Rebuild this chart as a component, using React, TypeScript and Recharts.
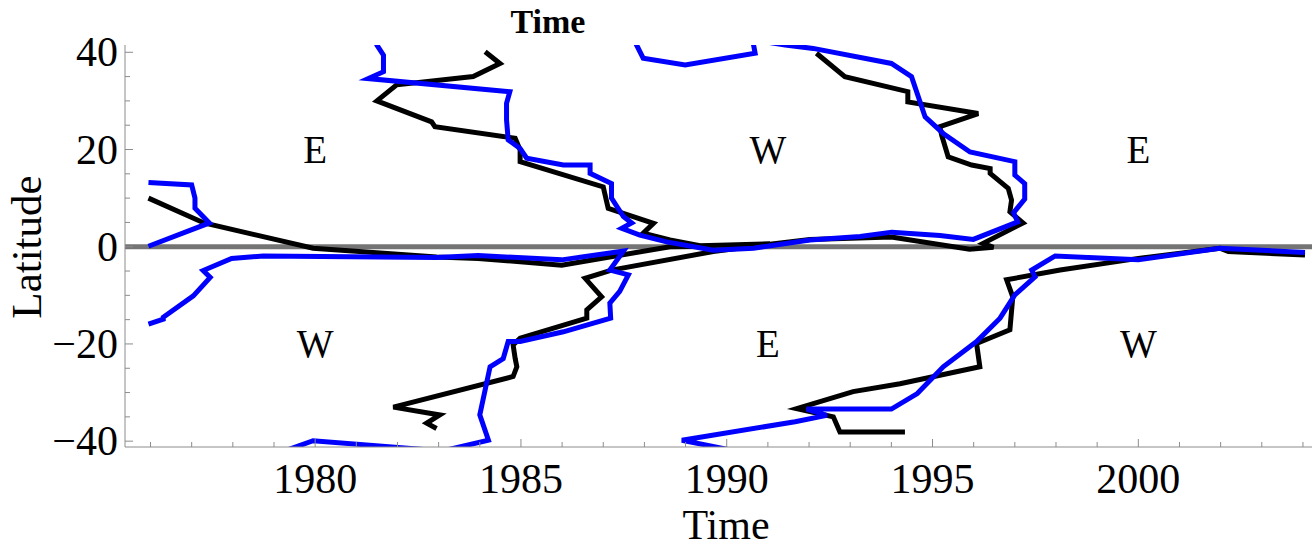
import React from 'react';
import { ComposedChart, Line, XAxis, YAxis, ReferenceLine, Scatter } from 'recharts';

// Zero-wind boundaries (time in years, latitude in degrees), one array per contour piece.
const blackNorthWest: [number, number][] = [
  [1975.95, 10.0], [1977.3, 4.9], [1979.95, -0.3], [1982.95, -2.1], [1983.96, -2.4],
  [1985.99, -3.8], [1988.62, 0.0], [1989.5, 0.1],
];
const blackSouthRise: [number, number][] = [
  [1982.95, -37.4], [1982.71, -36.3], [1983.03, -34.6], [1981.9, -33.0], [1984.81, -26.7],
  [1984.9, -24.7], [1984.86, -23.0], [1984.81, -20.2], [1984.98, -18.8], [1986.6, -14.7],
  [1986.6, -13.0], [1986.96, -10.3], [1986.56, -6.5], [1987.2, -4.8], [1989.67, -1.0],
  [1991.05, 0.5],
];
const blackNorthRidge: [number, number][] = [
  [1991.05, 0.5], [1992.02, 1.5], [1994.0, 2.0], [1995.9, -0.5], [1996.48, -0.1],
  [1996.23, 0.7], [1997.2, 4.9], [1996.88, 7.2], [1996.92, 9.6], [1996.84, 12.0],
  [1996.4, 15.1], [1996.4, 16.1], [1995.95, 16.8], [1995.38, 18.5], [1995.22, 23.0],
  [1995.18, 24.7], [1996.11, 27.4], [1994.4, 29.8], [1994.4, 31.9], [1992.87, 35.0],
  [1992.18, 39.8],
];
const blackTopLeft: [number, number][] = [
  [1984.13, 40.1], [1984.49, 37.7], [1983.84, 35.0], [1981.98, 33.3], [1981.5, 30.0],
  [1982.83, 25.7], [1982.91, 24.7], [1984.86, 22.3], [1984.98, 19.9], [1984.98, 17.5],
  [1987.0, 12.3], [1987.12, 7.9], [1988.22, 4.8], [1987.97, 2.8], [1988.62, 1.4],
  [1989.35, 0.2], [1991.05, 0.6],
];
const blackSouthEast: [number, number][] = [
  [1994.33, -38.1], [1992.75, -38.1], [1992.59, -35.0], [1991.7, -33.3], [1993.07, -29.8],
  [1994.21, -28.2], [1996.15, -24.7], [1996.07, -19.9], [1996.88, -17.1], [1996.95, -10.3],
  [1996.8, -6.8], [1998.1, -4.8], [2000.0, -2.4], [2001.98, -0.3], [2002.19, -1.0],
  [2004.05, -1.7],
];

const blueNorthWest: [number, number][] = [
  [1975.95, 13.2], [1977.0, 12.7], [1977.08, 10.0], [1977.08, 7.9], [1977.43, 4.9], [1975.95, 0.1],
];
const blueSouthWest: [number, number][] = [
  [1975.95, -15.9], [1976.31, -14.9], [1976.31, -14.5], [1977.04, -10.1], [1977.45, -6.3],
  [1977.28, -4.9], [1977.97, -2.4], [1978.74, -1.9], [1982.95, -2.2], [1983.96, -1.8],
  [1985.99, -2.7], [1987.49, -0.9], [1987.16, -4.8], [1987.61, -5.8], [1987.4, -9.2],
  [1987.16, -11.6], [1987.18, -14.7], [1986.03, -17.5], [1984.98, -19.5], [1984.69, -19.5],
  [1984.57, -23.0], [1984.25, -24.7], [1984.0, -34.6], [1984.21, -39.8], [1983.1, -42.0],
];
const blueSouthCorner: [number, number][] = [
  [1979.26, -42.0], [1979.95, -39.9], [1983.06, -42.0],
];
const blueNorthArc: [number, number][] = [
  [1981.45, 42.5], [1981.5, 41.5], [1981.66, 39.4], [1981.66, 36.0], [1981.29, 34.6],
  [1984.73, 31.9], [1984.65, 29.5], [1984.65, 26.1], [1984.69, 22.0], [1984.98, 20.2],
  [1985.14, 18.2], [1986.03, 16.8], [1986.68, 16.8], [1986.68, 15.1], [1987.2, 13.0],
  [1987.2, 10.0], [1987.49, 6.2], [1987.69, 4.9], [1987.45, 3.8], [1987.89, 2.4],
  [1988.54, 1.0], [1989.67, -0.7], [1990.65, -0.3], [1992.02, 1.4], [1993.24, 2.1],
  [1994.01, 3.0], [1995.18, 2.3], [1995.99, 1.5], [1997.07, 5.1], [1996.97, 7.0],
  [1997.24, 9.8], [1997.24, 13.0], [1997.0, 14.75], [1997.0, 17.5], [1995.91, 19.5],
  [1995.26, 23.3], [1994.82, 26.7], [1994.49, 35.0], [1994.0, 37.7], [1992.1, 40.8],
  [1991.42, 41.5], [1990.9, 42.2],
];
const blueTopDip: [number, number][] = [
  [1987.75, 42.5], [1987.81, 41.5], [1987.97, 38.8], [1988.99, 37.4], [1990.69, 39.8], [1990.63, 42.5],
];
const blueSouthEast: [number, number][] = [
  [1990.2, -42.0], [1988.91, -39.8], [1991.66, -36.0], [1992.43, -34.7], [1991.94, -33.4],
  [1994.0, -33.4], [1994.63, -30.2], [1995.26, -24.7], [1996.07, -19.5], [1996.64, -14.7],
  [1997.0, -9.9], [1997.49, -6.2], [1997.41, -4.8], [1997.98, -1.9], [2000.0, -2.7],
  [2001.98, -0.3], [2004.05, -1.2],
];

const blackCurves = [blackNorthWest, blackSouthRise, blackNorthRidge, blackTopLeft, blackSouthEast];
const blueCurves = [blueNorthWest, blueSouthWest, blueSouthCorner, blueNorthArc, blueTopDip, blueSouthEast];

// Wind-regime labels
const regionLabels = [
  { t: 1980, lat: 20, label: 'E' },
  { t: 1991, lat: 20, label: 'W' },
  { t: 2000, lat: 20, label: 'E' },
  { t: 1980, lat: -20, label: 'W' },
  { t: 1991, lat: -20, label: 'E' },
  { t: 2000, lat: -20, label: 'W' },
];

const timeDomain: [number, number] = [1975.38, 2004.22];
const latDomain: [number, number] = [-41.2, 41.5];
const yearTicks = Array.from({ length: 29 }, (_, i) => 1976 + i);
const latTicks = Array.from({ length: 17 }, (_, i) => -40 + i * 5);

const AXIS = '#8c8c8c';
const FONT = '"Liberation Serif", "Times New Roman", serif';

const toPoints = (arr: [number, number][]) => arr.map(([t, lat]) => ({ t, lat }));

function BottomTick(props: any) {
  const { x, y, payload } = props;
  const v = payload.value as number;
  const major = v % 5 === 0;
  return (
    <g>
      <line x1={x} y1={y} x2={x} y2={y - (major ? 8 : 5)} stroke={AXIS} strokeWidth={1} />
      {major && (
        <text x={x} y={y + 46} textAnchor="middle" fontFamily={FONT} fontSize={42} fill="#000">
          {v}
        </text>
      )}
    </g>
  );
}

function TopTick(props: any) {
  const { x, y, payload } = props;
  const major = (payload.value as number) % 5 === 0;
  return <line x1={x} y1={y} x2={x} y2={y + (major ? 8 : 5)} stroke={AXIS} strokeWidth={1} />;
}

function LeftTick(props: any) {
  const { x, y, payload } = props;
  const v = payload.value as number;
  const major = v % 20 === 0;
  const txt = v < 0 ? `\u2212${Math.abs(v)}` : `${v}`;
  return (
    <g>
      <line x1={x} y1={y} x2={x + (major ? 8 : 5)} y2={y} stroke={AXIS} strokeWidth={1} />
      {major && (
        <text x={x - 7} y={y + 14} textAnchor="end" fontFamily={FONT} fontSize={42} fill="#000">
          {txt}
        </text>
      )}
    </g>
  );
}

function RegionLabel(props: any) {
  const { cx, cy, payload } = props;
  return (
    <text x={cx} y={cy + 13} textAnchor="middle" fontFamily={FONT} fontSize={39} fill="#000">
      {payload.label}
    </text>
  );
}

export default function App() {
  return (
    <div style={{ position: 'absolute', left: 0, top: 0, width: 1313, height: 550, background: '#fff' }}>
      <ComposedChart width={1313} height={550} margin={{ top: 45, right: 1, bottom: 0, left: 0 }}>
        <XAxis
          xAxisId="bottom"
          dataKey="t"
          type="number"
          domain={timeDomain}
          allowDataOverflow
          ticks={yearTicks}
          interval={0}
          height={103}
          tickSize={0}
          tickMargin={0}
          tickLine={false}
          axisLine={{ stroke: AXIS }}
          tick={BottomTick}
        />
        <XAxis
          xAxisId="top"
          orientation="top"
          dataKey="t"
          type="number"
          domain={timeDomain}
          allowDataOverflow
          ticks={yearTicks}
          interval={0}
          height={0}
          tickSize={0}
          tickMargin={0}
          tickLine={false}
          axisLine={{ stroke: AXIS }}
          tick={TopTick}
        />
        <YAxis
          yAxisId="left"
          dataKey="lat"
          type="number"
          domain={latDomain}
          allowDataOverflow
          ticks={latTicks}
          interval={0}
          width={125}
          tickSize={0}
          tickMargin={0}
          tickLine={false}
          axisLine={{ stroke: AXIS }}
          tick={LeftTick}
        />
        <ReferenceLine xAxisId="bottom" yAxisId="left" y={0} stroke="#747474" strokeWidth={5} />
        {blackCurves.map((c, i) => (
          <Line
            key={`k${i}`}
            xAxisId="bottom"
            yAxisId="left"
            data={toPoints(c)}
            dataKey="lat"
            type="linear"
            stroke="#000"
            strokeWidth={5}
            dot={false}
            activeDot={false}
            isAnimationActive={false}
          />
        ))}
        {blueCurves.map((c, i) => (
          <Line
            key={`b${i}`}
            xAxisId="bottom"
            yAxisId="left"
            data={toPoints(c)}
            dataKey="lat"
            type="linear"
            stroke="#0000ff"
            strokeWidth={5}
            dot={false}
            activeDot={false}
            isAnimationActive={false}
          />
        ))}
        <Scatter
          xAxisId="bottom"
          yAxisId="left"
          data={regionLabels}
          dataKey="lat"
          shape={RegionLabel}
          isAnimationActive={false}
        />
      </ComposedChart>
      <svg
        width={1313}
        height={550}
        style={{ position: 'absolute', left: 0, top: 0, pointerEvents: 'none' }}
      >
        <text x={548} y={33} textAnchor="middle" fontFamily={FONT} fontSize={34} fontWeight="bold" fill="#000">
          Time
        </text>
        <text x={726} y={539} textAnchor="middle" fontFamily={FONT} fontSize={42} fill="#000">
          Time
        </text>
        <text transform="translate(41,247) rotate(-90)" textAnchor="middle" fontFamily={FONT} fontSize={43} fill="#000">
          Latitude
        </text>
      </svg>
    </div>
  );
}
